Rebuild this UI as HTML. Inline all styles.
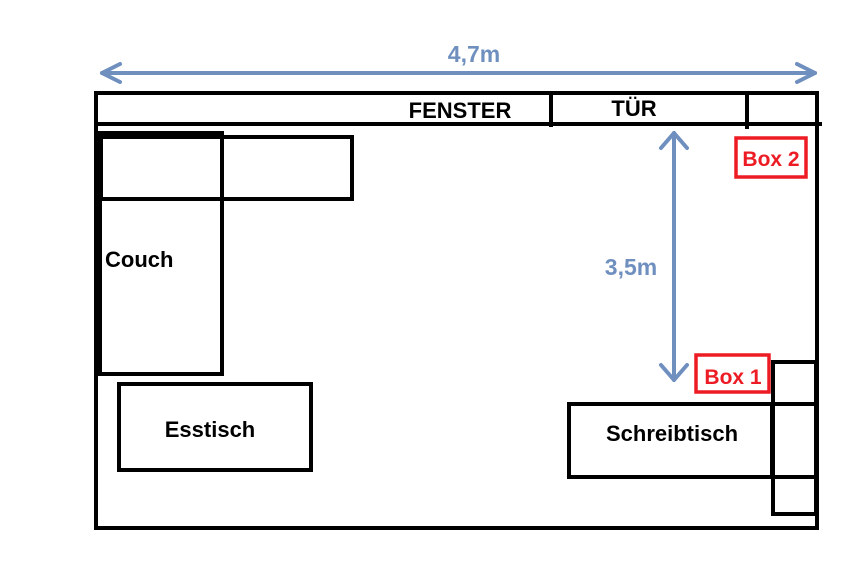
<!DOCTYPE html>
<html><head><meta charset="utf-8"><style>
html,body{margin:0;padding:0;background:#fff;}
svg{display:block;}
text{font-family:"Liberation Sans",sans-serif;font-weight:bold;}
</style></head><body>
<svg width="867" height="564" viewBox="0 0 867 564" xmlns="http://www.w3.org/2000/svg">
<rect width="867" height="564" fill="#fff"/>
<g stroke="#6f8fbf" stroke-width="4" fill="none" stroke-linecap="round" stroke-linejoin="round">
<line x1="102" y1="73" x2="815" y2="73"/>
<polyline points="120,64 102,73 120,82"/>
<polyline points="797,64 815,73 797,82"/>
<line x1="674" y1="133" x2="674" y2="380"/>
<polyline points="661,148 674,133 687,148"/>
<polyline points="661,365 674,380 687,365"/>
</g>
<text x="474" y="62" fill="#6f8fbf" font-size="23" text-anchor="middle">4,7m</text>
<text x="631" y="275" fill="#6f8fbf" font-size="23" text-anchor="middle">3,5m</text>
<g stroke="#000" stroke-width="4" fill="none">
<rect x="96" y="93" width="721" height="435"/>
<line x1="96" y1="124" x2="822" y2="124"/>
<line x1="551" y1="93" x2="551" y2="127"/>
<line x1="747" y1="93" x2="747" y2="129"/>
<rect x="100" y="137" width="252" height="62"/>
<rect x="100" y="133" width="122" height="241"/>
<rect x="119" y="384" width="192" height="86"/>
<rect x="569" y="404" width="203" height="73"/>
<rect x="773" y="362" width="43" height="152"/>
<line x1="773" y1="404" x2="816" y2="404"/>
<line x1="773" y1="477" x2="816" y2="477"/>
</g>
<rect x="98" y="131" width="5" height="69" fill="#000"/>
<g stroke="#ed1c24" stroke-width="3.5" fill="none">
<rect x="736" y="138" width="70" height="39"/>
<rect x="696" y="355" width="73" height="37"/>
</g>
<text x="771" y="166" fill="#ed1c24" font-size="21" text-anchor="middle">Box 2</text>
<text x="733" y="384" fill="#ed1c24" font-size="21" text-anchor="middle">Box 1</text>
<g fill="#000" font-size="22">
<text x="460" y="118" text-anchor="middle">FENSTER</text>
<text x="634" y="116" text-anchor="middle">TÜR</text>
<text x="105" y="267">Couch</text>
<text x="210" y="437" text-anchor="middle">Esstisch</text>
<text x="672" y="441" text-anchor="middle">Schreibtisch</text>
</g>
</svg>
</body></html>
